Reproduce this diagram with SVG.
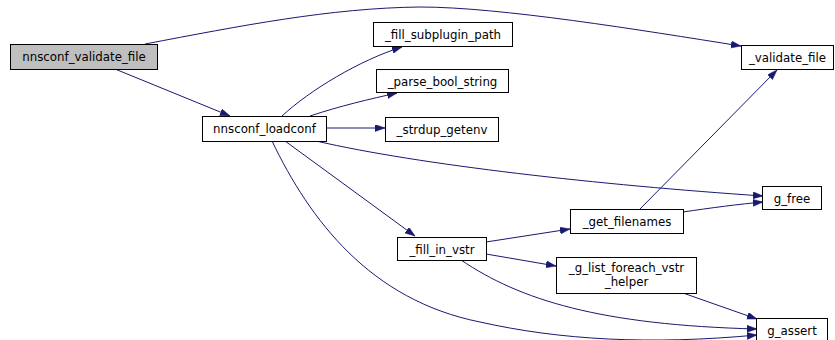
<svg xmlns="http://www.w3.org/2000/svg" width="835" height="340" viewBox="0 0 835 340">
<style>
.n rect{fill:#fff;stroke:#000;stroke-width:1}
.n.h rect{fill:#bfbfbf;stroke:#000}
.n text{font-family:"DejaVu Sans",sans-serif;font-size:11.8px;fill:#000;text-anchor:middle}
.e path{fill:none;stroke:#191970;stroke-width:1;marker-end:url(#a)}
</style>
<defs>
<marker id="a" markerUnits="userSpaceOnUse" markerWidth="11" markerHeight="8" refX="10" refY="3.5" orient="auto">
<path d="M0,0 L10,3.5 L0,7 z" fill="#191970" stroke="#191970" stroke-width="0.5"/>
</marker>
</defs>
<rect width="835" height="340" fill="#fff"/>
<g id="edges" class="e">
<path d="M145,44 C240,26 330,8 420,7 C500,7 640,30 741,46"/>
<path d="M115,69 L230,116"/>
<path d="M282,116 C310,90 360,60 402,47"/>
<path d="M310,116 C340,106 370,99 397,93"/>
<path d="M326,128 L385,128"/>
<path d="M316,141 C420,165 600,185 763,196"/>
<path d="M285,141 L415,236"/>
<path d="M272,141 C310,220 370,300 480,322 C560,340 650,345 757,335"/>
<path d="M486,242 L570,229"/>
<path d="M486,254 L556,266"/>
<path d="M461,260 C520,300 600,325 757,329"/>
<path d="M683,293 L757,319"/>
<path d="M640,209 L777,70"/>
<path d="M683,212 C710,208 740,204 763,202"/>
</g>
<g id="nnsconf_validate_file" class="n h"><rect x="10.5" y="44.5" width="147" height="25"/><text x="84" y="61">nnsconf_validate_file</text></g>
<g id="nnsconf_loadconf" class="n"><rect x="202.5" y="116.5" width="124" height="25"/><text x="264.5" y="133">nnsconf_loadconf</text></g>
<g id="_fill_subplugin_path" class="n"><rect x="373.5" y="22.5" width="139" height="24"/><text x="443" y="38.5">_fill_subplugin_path</text></g>
<g id="_parse_bool_string" class="n"><rect x="376.5" y="69.5" width="132" height="23"/><text x="442.5" y="85.5">_parse_bool_string</text></g>
<g id="_strdup_getenv" class="n"><rect x="385.5" y="117.5" width="113" height="24"/><text x="442" y="133.5">_strdup_getenv</text></g>
<g id="_validate_file" class="n"><rect x="741.5" y="45.5" width="92" height="24"/><text x="787.5" y="61.5">_validate_file</text></g>
<g id="g_free" class="n"><rect x="762.5" y="186.5" width="59" height="23"/><text x="792" y="202.5">g_free</text></g>
<g id="_get_filenames" class="n"><rect x="570.5" y="209.5" width="113" height="24"/><text x="627" y="225.5">_get_filenames</text></g>
<g id="_fill_in_vstr" class="n"><rect x="397.5" y="237.5" width="89" height="23"/><text x="442" y="253.5">_fill_in_vstr</text></g>
<g id="_g_list_foreach_vstr_helper" class="n"><rect x="556.5" y="257.5" width="140" height="36"/><text x="626.5" y="272">_g_list_foreach_vstr</text><text x="626.5" y="286">_helper</text></g>
<g id="g_assert" class="n"><rect x="756.5" y="318.5" width="71" height="24"/><text x="792" y="334.5">g_assert</text></g>
</svg>
